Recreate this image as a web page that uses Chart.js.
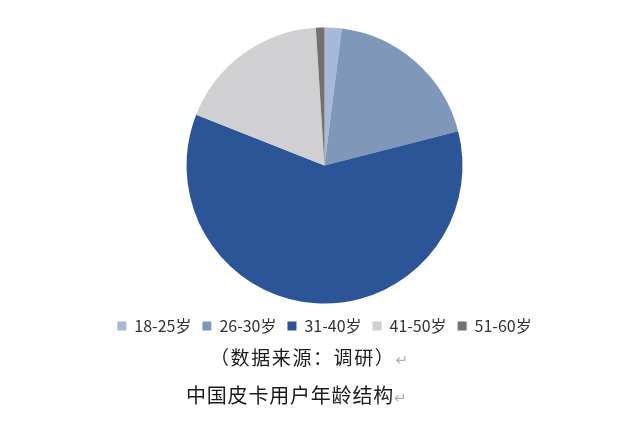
<!DOCTYPE html>
<html>
<head>
<meta charset="utf-8">
<script src="https://cdn.jsdelivr.net/npm/chart.js@4/dist/chart.umd.min.js"></script>
<style>
  html, body { margin: 0; padding: 0; background: #fff; }
  #wrap { position: relative; width: 640px; height: 439px; overflow: hidden; }
  #box { position: absolute; left: 0; top: 0; width: 640px; height: 344px; }
  .cap { position: absolute; white-space: nowrap; color: #1a1a1a;
         font-family: "Noto Sans CJK SC", sans-serif; line-height: 1; }
  .cap .ret { color: #b0b0b0; font-family: "DejaVu Sans", sans-serif; font-size: 15px; letter-spacing: 0; }
  #src { left: 210px; top: 347px; font-size: 19px; letter-spacing: 1.6px; }
  #ttl { left: 186px; top: 385px; font-size: 20px; letter-spacing: 0.8px; }
</style>
</head>
<body>
<div id="wrap">
  <div id="box"><canvas id="c"></canvas></div>
  <div class="cap" id="src">（数据来源：调研）<span class="ret">↵</span></div>
  <div class="cap" id="ttl">中国皮卡用户年龄结构<span class="ret">↵</span></div>
</div>
<script>
// Age groups of pickup owners and their share (%)
const ageGroups = ['18-25岁', '26-30岁', '31-40岁', '41-50岁', '51-60岁'];
const shares = [2, 19, 60, 18, 1];
const sliceColors = ['#a6b9d8', '#7f97b8', '#2c5597', '#d0cfd1', '#756f6d'];

new Chart(document.getElementById('c'), {
  type: 'pie',
  data: {
    labels: ageGroups,
    datasets: [{
      data: shares,
      backgroundColor: sliceColors,
      borderWidth: 0,
      radius: 138
    }]
  },
  options: {
    responsive: true,
    maintainAspectRatio: false,
    animation: false,
    layout: { padding: { top: 24, left: 9, right: 0, bottom: 0 } },
    plugins: {
      tooltip: { enabled: false },
      legend: {
        position: 'bottom',
        labels: {
          boxWidth: 9,
          boxHeight: 9,
          padding: 11,
          color: '#333',
          font: { family: '"Noto Sans CJK SC", sans-serif', size: 16 }
        }
      }
    }
  }
});
</script>
</body>
</html>
